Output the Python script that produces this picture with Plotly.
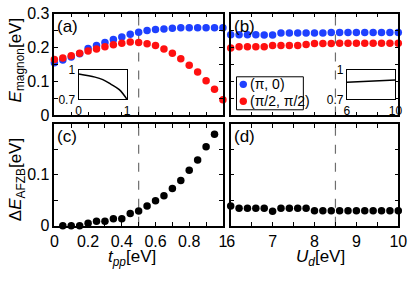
import plotly.graph_objects as go

FONT = "Liberation Sans, Arial, Helvetica, sans-serif"
W, H = 416, 281

# ---------------- data ----------------
tpp = [0.0, 0.05, 0.1, 0.15, 0.2, 0.25, 0.3, 0.35, 0.4, 0.45, 0.5,
       0.55, 0.6, 0.65, 0.7, 0.75, 0.8, 0.85, 0.9, 0.95, 1.0]
e_pi0_a = [0.155, 0.163, 0.172, 0.182, 0.197, 0.206, 0.215, 0.224, 0.231, 0.239, 0.245,
           0.250, 0.253, 0.255, 0.257, 0.258, 0.258, 0.258, 0.258, 0.258, 0.258]
e_pi2_a = [0.165, 0.169, 0.176, 0.183, 0.190, 0.196, 0.202, 0.208, 0.213, 0.216, 0.215,
           0.211, 0.206, 0.196, 0.183, 0.167, 0.148, 0.128, 0.102, 0.077, 0.046]

ud = [6.0, 6.2, 6.4, 6.6, 6.8, 7.0, 7.2, 7.4, 7.6, 7.8, 8.0,
      8.2, 8.4, 8.6, 8.8, 9.0, 9.2, 9.4, 9.6, 9.8, 10.0]
e_pi0_b = [0.238, 0.238, 0.238, 0.238, 0.237, 0.237, 0.243, 0.243, 0.243, 0.243, 0.243,
           0.243, 0.244, 0.244, 0.244, 0.244, 0.244, 0.244, 0.244, 0.244, 0.244]
e_pi2_b = [0.199, 0.202, 0.202, 0.202, 0.202, 0.206, 0.206, 0.206, 0.206, 0.209, 0.212,
           0.212, 0.212, 0.213, 0.213, 0.213, 0.213, 0.213, 0.213, 0.213, 0.213]

tpp_c = [0.05, 0.1, 0.15, 0.2, 0.25, 0.3, 0.35, 0.4, 0.45, 0.5,
         0.55, 0.6, 0.65, 0.7, 0.75, 0.8, 0.85, 0.9, 0.95]
de_c = [0.0, 0.0, 0.0, 0.005, 0.009, 0.009, 0.0136, 0.0136, 0.024, 0.029,
        0.039, 0.049, 0.059, 0.073, 0.089, 0.109, 0.129, 0.155, 0.180]

de_d = [0.039, 0.0346, 0.0346, 0.0346, 0.0346, 0.0284, 0.0346, 0.0346, 0.0346, 0.0346, 0.0296,
        0.0296, 0.0296, 0.0296, 0.0296, 0.0296, 0.0296, 0.0296, 0.0296, 0.0296, 0.0296]

inset_a_x = [0.0, 0.34, 0.5, 0.67, 0.84, 1.0]
inset_a_y = [0.961, 0.929, 0.903, 0.855, 0.800, 0.700]
inset_b_x = [6.0, 8.0, 10.0]
inset_b_y = [0.875, 0.887, 0.899]

t_ticks = [0.0, 0.1, 0.2, 0.3, 0.4, 0.5, 0.6, 0.7, 0.8, 0.9, 1.0]
t_labels = ["0", "", "0.2", "", "0.4", "", "0.6", "", "0.8", "", "1"]
u_ticks = [6.0, 6.5, 7.0, 7.5, 8.0, 8.5, 9.0, 9.5, 10.0]
u_labels = ["6", "", "7", "", "8", "", "9", "", "10"]
ya_ticks = [0.0, 0.05, 0.1, 0.15, 0.2, 0.25, 0.3]
ya_labels = ["0", "", "0.1", "", "0.2", "", "0.3"]
yc_ticks = [0.0, 0.05, 0.1, 0.15, 0.2]
yc_labels = ["0", "", "0.1", "", ""]

BLUE = "rgb(30,64,255)"
RED = "rgb(255,16,16)"
BLACK = "black"


def px_x(p):
    return p / W


def px_y(p):
    return 1 - p / H


def axis(**kw):
    d = dict(showline=True, linecolor="black", linewidth=1.5, mirror="ticks",
             ticks="inside", ticklen=4, tickwidth=1, tickcolor="black",
             showgrid=False, zeroline=False,
             tickfont=dict(size=16, color="black", family=FONT))
    d.update(kw)
    return d


fig = go.Figure()
mk = dict(size=7.5, line=dict(width=0))

fig.add_trace(go.Scatter(x=tpp, y=e_pi0_a, mode="markers", marker=dict(color=BLUE, **mk),
                         xaxis="x", yaxis="y", cliponaxis=False, name="(π, 0)"))
fig.add_trace(go.Scatter(x=tpp, y=e_pi2_a, mode="markers", marker=dict(color=RED, **mk),
                         xaxis="x", yaxis="y", cliponaxis=False, name="(π/2, π/2)"))
fig.add_trace(go.Scatter(x=ud, y=e_pi0_b, mode="markers", marker=dict(color=BLUE, **mk),
                         xaxis="x2", yaxis="y2", cliponaxis=False, name="(π, 0)"))
fig.add_trace(go.Scatter(x=ud, y=e_pi2_b, mode="markers", marker=dict(color=RED, **mk),
                         xaxis="x2", yaxis="y2", cliponaxis=False, name="(π/2, π/2)"))
fig.add_trace(go.Scatter(x=tpp_c, y=de_c, mode="markers", marker=dict(color=BLACK, **mk),
                         xaxis="x3", yaxis="y3", cliponaxis=False))
fig.add_trace(go.Scatter(x=ud, y=de_d, mode="markers", marker=dict(color=BLACK, **mk),
                         xaxis="x4", yaxis="y4", cliponaxis=False))
fig.add_trace(go.Scatter(x=inset_a_x, y=inset_a_y, mode="lines", line=dict(color="black", width=1.5, shape="spline"),
                         xaxis="x5", yaxis="y5"))
fig.add_trace(go.Scatter(x=inset_b_x, y=inset_b_y, mode="lines", line=dict(color="black", width=1.5),
                         xaxis="x6", yaxis="y6"))

xd_l = [px_x(52), px_x(226)]
xd_r = [px_x(234), px_x(407)]
yd_t = [px_y(115), px_y(7)]
yd_b = [px_y(232), px_y(124)]

ins_font = dict(size=12, color="black", family=FONT)

fig.update_layout(
    width=W, height=H, autosize=False,
    margin=dict(l=0, r=0, t=0, b=0),
    paper_bgcolor="white", plot_bgcolor="white",
    showlegend=False,
    font=dict(family=FONT, color="black"),
    xaxis=axis(domain=xd_l, anchor="y", range=[0, 1], tickvals=t_ticks, showticklabels=False),
    yaxis=axis(domain=yd_t, anchor="x", range=[0, 0.3], tickvals=ya_ticks, ticktext=ya_labels),
    xaxis2=axis(domain=xd_r, anchor="y2", range=[6, 10], tickvals=u_ticks, showticklabels=False),
    yaxis2=axis(domain=yd_t, anchor="x2", range=[0, 0.3], tickvals=ya_ticks, showticklabels=False),
    xaxis3=axis(domain=xd_l, anchor="y3", range=[0, 1], tickvals=t_ticks, ticktext=t_labels),
    yaxis3=axis(domain=yd_b, anchor="x3", range=[0, 0.2], tickvals=yc_ticks, ticktext=yc_labels),
    xaxis4=axis(domain=xd_r, anchor="y4", range=[6, 10], tickvals=u_ticks, ticktext=u_labels),
    yaxis4=axis(domain=yd_b, anchor="x4", range=[0, 0.2], tickvals=yc_ticks, showticklabels=False),
    xaxis5=axis(domain=[px_x(77), px_x(127)], anchor="y5", range=[0, 1], tickvals=[0, 1],
                ticktext=["0", "1"], ticks="", mirror=True, linewidth=1.2, tickfont=ins_font),
    yaxis5=axis(domain=[px_y(98), px_y(67)], anchor="x5", range=[0.7, 1], tickvals=[0.7, 1],
                ticktext=["0.7", "1"], ticks="", mirror=True, linewidth=1.2, tickfont=ins_font),
    xaxis6=axis(domain=[px_x(354), px_x(404)], anchor="y6", range=[6, 10], tickvals=[6, 10],
                ticktext=["6", "10"], ticks="", mirror=True, linewidth=1.2, tickfont=ins_font),
    yaxis6=axis(domain=[px_y(98), px_y(67)], anchor="x6", range=[0.7, 1], tickvals=[0.7, 1],
                ticktext=["0.7", "1"], ticks="", mirror=True, linewidth=1.2, tickfont=ins_font),
)

# dashed vertical lines
for xr, yr, xv in [("x", "y", 0.5), ("x3", "y3", 0.5), ("x2", "y2", 8.5), ("x4", "y4", 8.5)]:
    fig.add_shape(type="line", xref=xr, yref=yr + " domain", x0=xv, x1=xv, y0=0, y1=1,
                  line=dict(color="rgb(110,110,110)", width=1.2, dash="dash"), layer="below")

# panel labels
for lab, xp, yp in [("(a)", 53, 8), ("(b)", 235, 8), ("(c)", 53, 125), ("(d)", 235, 125)]:
    fig.add_annotation(text=lab, x=px_x(xp), y=px_y(yp), xref="paper", yref="paper",
                       xanchor="left", yanchor="top", showarrow=False,
                       font=dict(size=17, color="black", family=FONT))

# axis titles
tf = dict(size=17, color="black", family=FONT)
fig.add_annotation(text="<i>E</i><sub>magnon</sub>[eV]", x=px_x(13), y=px_y(56), xref="paper", yref="paper",
                   textangle=-90, showarrow=False, font=tf, xanchor="center", yanchor="middle")
fig.add_annotation(text="Δ<i>E</i><sub>AFZB</sub>[eV]", x=px_x(13), y=px_y(183), xref="paper", yref="paper",
                   textangle=-90, showarrow=False, font=tf, xanchor="center", yanchor="middle")
fig.add_annotation(text="<i>t</i><sub><i>pp</i></sub>[eV]", x=px_x(132), y=px_y(266), xref="paper", yref="paper",
                   showarrow=False, font=tf, xanchor="center", yanchor="middle")
fig.add_annotation(text="<i>U</i><sub><i>d</i></sub>[eV]", x=px_x(327), y=px_y(266), xref="paper", yref="paper",
                   showarrow=False, font=tf, xanchor="center", yanchor="middle")

# legend (drawn in panel b)
fig.add_shape(type="rect", xref="paper", yref="paper", x0=px_x(240), x1=px_x(309), y0=px_y(109), y1=px_y(74),
              line=dict(color="black", width=1), fillcolor="white")
for col, yy, txt in [(BLUE, 82, "(π, 0)"), (RED, 100, "(π/2, π/2)")]:
    fig.add_shape(type="circle", xref="paper", yref="paper", xsizemode="pixel", ysizemode="pixel",
                  xanchor=px_x(247), yanchor=px_y(yy), x0=-3.7, x1=3.7, y0=-3.7, y1=3.7,
                  fillcolor=col, line=dict(width=0))
    fig.add_annotation(text=txt, x=px_x(252), y=px_y(yy), xref="paper", yref="paper",
                       xanchor="left", yanchor="middle", showarrow=False,
                       font=dict(size=14, color="black", family=FONT))

fig.write_html("out.html", config={"displayModeBar": False},
               post_script="document.body.style.margin='0';document.body.style.overflow='hidden';")
